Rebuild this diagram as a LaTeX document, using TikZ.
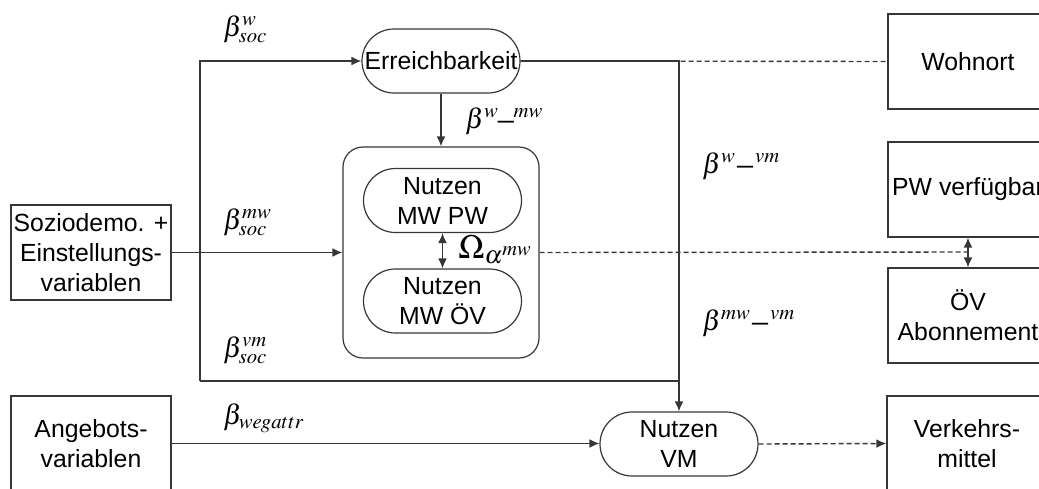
\documentclass[tikz,border=0pt]{standalone}
\usepackage{mathptmx}
\usepackage{fontspec}
\setmainfont{Liberation Sans}
\usetikzlibrary{arrows.meta,positioning,shapes.misc}
\definecolor{linegray}{RGB}{55,55,55}

\begin{document}
\begin{tikzpicture}[x=0.5pt, y=-0.5pt,
      every node/.style={font=\fontsize{12.4}{15}\selectfont},
      box/.style={rectangle, draw=linegray, line width=0.6pt, minimum width=80pt, minimum height=47.5pt, align=center, inner sep=0pt},
      util/.style={rounded rectangle, draw=linegray, line width=0.6pt, minimum width=79pt, minimum height=32pt, align=center, inner sep=0pt},
      group/.style={rectangle, rounded corners=10pt, draw=linegray, line width=0.6pt, minimum width=98pt, minimum height=105.5pt},
      coef/.style={anchor=base west, inner sep=0pt, font=\fontsize{14}{16}\selectfont},
      arrow/.style={-{Latex[length=5pt, width=4.4pt]}, line width=0.7pt, draw=linegray},
      twoway/.style={{Latex[length=5pt, width=4.4pt]}-{Latex[length=5pt, width=4.4pt]}, line width=0.7pt, draw=linegray},
      link/.style={line width=0.7pt, draw=linegray},
      dashlink/.style={line width=0.7pt, draw=linegray, dash pattern=on 2.5pt off 1.5pt}
  ]
    \useasboundingbox (0,0) rectangle (1039,488);
    \clip (0,0) rectangle (1039,488);
    % linke Seite
    \node[box] (socio) at (91,252.5) {Soziodemo. +\\Einstellungs-\\variablen};
    \node[box] (angebot) at (91,443.5) {Angebots-\\variablen};
    % Mitte
    \node[util] (erreich) at (441,61) {Erreichbarkeit};
    \node[group] (mw) at (441,252.5) {};
    \node[util] (nmwpw) at (442.5,200.5) {Nutzen\\MW PW};
    \node[util] (nmwov) at (442.5,301) {Nutzen\\MW ÖV};
    \node[util] (vm) at (679,444) {Nutzen\\VM};
    % rechte Seite
    \node[box] (wohnort) at (968,61.5) {Wohnort};
    \node[box] (pw) at (968,189.5) {PW verfügbar};
    \node[box] (oev) at (968,315.5) {ÖV\\Abonnement};
    \node[box] (verkehr) at (967,443.5) {Verkehrs-\\mittel};
    % Koeffizienten
    \node[coef] (bsocw) at (223,36) {$\beta^{w}_{soc}$};
    \node[coef] (bsocmw) at (223,229) {$\beta^{mw}_{soc}$};
    \node[coef] (bsocvm) at (223,357) {$\beta^{vm}_{soc}$};
    \node[coef] (bwegattr) at (223,424) {$\beta_{wegattr}$};
    \node[coef] (bwmw) at (465,128) {$\beta^{w\_mw}$};
    \node[coef] (bwvm) at (702,173) {$\beta^{w\,\_\,vm}$};
    \node[coef] (bmwvm) at (702,330) {$\beta^{mw\,\_\,vm}$};
    \node[coef, font=\fontsize{17}{19}\selectfont] (omega) at (458,258) {$\Omega_{\alpha^{mw}}$};
    % Verbindungen
    \coordinate (soctop) at (200,61);
    \coordinate (socbot) at (200,381);
    \coordinate (corrjoin) at (968,252);
    \draw[arrow] (socbot) -- (soctop) -- (erreich.west);
    \draw[link] (socbot) -- (socbot -| vm.north);
    \draw[arrow] (erreich.east) -- (erreich.east -| vm.north) -- (vm.north);
    \draw[dashlink] (erreich.east) -- (wohnort.west);
    \draw[arrow] (erreich.south) -- (mw.north);
    \draw[arrow] (socio.east) -- (socio.east -| mw.west);
    \draw[twoway] (nmwpw.south) -- (nmwov.north);
    \draw[dashlink] (mw.east) -- (corrjoin);
    \draw[twoway] (pw.south) -- (oev.north);
    \draw[arrow] (angebot.east) -- (angebot.east -| vm.west);
    \draw[arrow, dashlink] (vm.east) -- (verkehr.west);
\end{tikzpicture}
\end{document}
